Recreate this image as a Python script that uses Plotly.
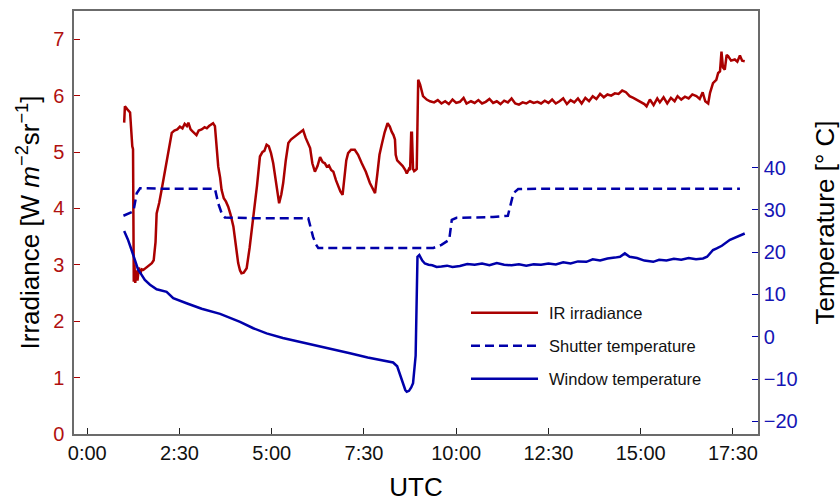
import plotly.graph_objects as go

# ---- data (hours UTC) ----
ir_hours = [1.00, 1.02, 1.08, 1.16, 1.22, 1.24, 1.26, 1.28, 1.30, 1.33, 1.36, 1.40, 1.44, 1.48, 1.52,
            1.60, 1.68, 1.75, 1.80, 1.85, 1.88, 1.95, 2.02, 2.06, 2.12, 2.18, 2.24, 2.29, 2.36, 2.44,
            2.51, 2.58, 2.64, 2.70, 2.74, 2.80, 2.86, 2.92, 2.96, 3.02, 3.10, 3.18, 3.24, 3.30, 3.36,
            3.41, 3.46, 3.51, 3.55, 3.60, 3.64, 3.70, 3.76, 3.82, 3.88, 3.96, 4.03, 4.09, 4.14, 4.18,
            4.24, 4.32, 4.40, 4.50, 4.60, 4.68, 4.75, 4.80, 4.86, 4.92, 4.98, 5.04, 5.12, 5.20, 5.26,
            5.31, 5.38, 5.45, 5.52, 5.58, 5.66, 5.75, 5.85, 5.92, 5.98, 6.04, 6.10, 6.17, 6.24, 6.31,
            6.38, 6.44, 6.49, 6.55, 6.61, 6.67, 6.74, 6.80, 6.86, 6.92, 6.97, 7.02, 7.07, 7.15, 7.25,
            7.34, 7.44, 7.55, 7.66, 7.73, 7.80, 7.86, 7.92, 7.98, 8.06, 8.14, 8.20, 8.25, 8.30, 8.34,
            8.36, 8.40, 8.47, 8.55, 8.62, 8.66, 8.72, 8.75, 8.78, 8.80, 8.83, 8.86, 8.90, 8.93, 8.95,
            8.97, 9.02, 9.10, 9.20, 9.29, 9.40, 9.50, 9.60, 9.70, 9.80, 9.90, 10.00, 10.10, 10.20,
            10.28, 10.40, 10.50, 10.60, 10.70, 10.80, 10.90, 11.00, 11.10, 11.20, 11.30, 11.40, 11.50,
            11.60, 11.70, 11.80, 11.90, 12.00, 12.10, 12.20, 12.30, 12.40, 12.50, 12.60, 12.70, 12.80,
            12.90, 13.00, 13.10, 13.20, 13.30, 13.40, 13.50, 13.60, 13.70, 13.80, 13.90, 14.00, 14.10,
            14.20, 14.30, 14.40, 14.50, 14.60, 14.70, 14.80, 14.90, 15.00, 15.10, 15.16, 15.25, 15.35,
            15.45, 15.52, 15.62, 15.72, 15.82, 15.92, 16.00, 16.10, 16.20, 16.30, 16.40, 16.51, 16.60,
            16.68, 16.75, 16.83, 16.88, 16.96, 17.05, 17.10, 17.15, 17.19, 17.23, 17.28, 17.33, 17.37,
            17.45, 17.55, 17.62, 17.69, 17.75, 17.82]
ir_values = [5.52, 5.81, 5.76, 5.70, 5.10, 5.05, 2.70, 3.00, 2.68, 2.90, 2.72, 2.95, 2.85, 2.92, 2.91,
             2.95, 2.98, 3.03, 3.08, 3.40, 3.91, 4.10, 4.35, 4.50, 4.75, 4.95, 5.20, 5.34, 5.38, 5.40,
             5.45, 5.42, 5.50, 5.46, 5.52, 5.40, 5.36, 5.33, 5.30, 5.38, 5.40, 5.44, 5.42, 5.46, 5.48,
             5.51, 5.46, 5.10, 4.74, 4.55, 4.33, 4.18, 4.12, 4.03, 3.90, 3.68, 3.35, 3.03, 2.90, 2.85,
             2.86, 2.94, 3.30, 3.80, 4.40, 4.92, 5.00, 5.02, 5.13, 5.10, 4.98, 4.80, 4.45, 4.09, 4.25,
             4.45, 4.85, 5.16, 5.22, 5.25, 5.30, 5.33, 5.39, 5.25, 5.16, 5.07, 4.80, 4.65, 4.75, 4.91,
             4.82, 4.80, 4.74, 4.76, 4.68, 4.65, 4.50, 4.39, 4.30, 4.24, 4.55, 4.85, 4.98, 5.04, 5.04,
             4.95, 4.80, 4.65, 4.45, 4.35, 4.27, 4.60, 4.95, 5.13, 5.35, 5.51, 5.45, 5.36, 5.30, 5.22,
             4.95, 4.85, 4.80, 4.75, 4.68, 4.62, 4.70, 4.68, 5.34, 5.34, 4.70, 4.66, 4.68, 4.70, 5.50,
             6.28, 6.20, 5.99, 5.93, 5.90, 5.88, 5.92, 5.86, 5.90, 5.85, 5.93, 5.87, 5.89, 5.96,
             5.86, 5.90, 5.87, 5.92, 5.86, 5.89, 5.94, 5.87, 5.90, 5.85, 5.91, 5.88, 5.95,
             5.86, 5.84, 5.88, 5.86, 5.90, 5.87, 5.89, 5.86, 5.91, 5.87, 5.93, 5.86, 5.90,
             5.95, 5.85, 5.92, 5.88, 5.95, 5.86, 5.96, 5.90, 5.99, 5.94, 6.03, 5.97, 6.02,
             6.00, 6.04, 6.03, 6.09, 6.06, 5.99, 5.96, 5.92, 5.88, 5.85, 5.81, 5.93, 5.83,
             5.95, 5.88, 5.97, 5.86, 5.96, 5.90, 5.99, 5.93, 5.98, 5.95, 6.02, 5.99, 5.94,
             6.06, 5.90, 5.86, 6.05, 6.22, 6.28, 6.40, 6.43, 6.78, 6.50, 6.46, 6.72, 6.70,
             6.62, 6.64, 6.60, 6.71, 6.62, 6.61]

shutter_hours = [0.98, 1.25, 1.34, 1.43, 2.00, 3.00, 3.46, 3.55, 3.65, 3.73, 4.50, 5.50, 5.99, 6.12,
                 6.20, 6.26, 7.00, 8.00, 9.00, 9.38, 9.60, 9.81, 9.88, 10.01, 10.50, 11.00, 11.40,
                 11.46, 11.55, 11.68, 12.50, 14.00, 15.50, 17.00, 17.69]
shutter_temp = [28.6, 29.6, 33.9, 35.1, 35.0, 35.0, 35.0, 31.5, 29.0, 28.2, 28.0, 28.0, 28.0, 23.6,
                21.8, 21.0, 21.0, 21.0, 21.0, 21.0, 21.7, 22.9, 27.6, 28.1, 28.2, 28.3, 28.6,
                30.7, 33.9, 34.9, 35.0, 35.0, 35.0, 35.0, 35.0]

window_hours = [1.00, 1.10, 1.20, 1.30, 1.38, 1.46, 1.56, 1.70, 1.88, 2.15, 2.33, 2.69, 3.10, 3.60,
                4.14, 4.50, 4.86, 5.30, 5.76, 6.22, 6.70, 7.12, 7.60, 8.00, 8.29, 8.40, 8.47, 8.55,
                8.62, 8.66, 8.72, 8.78, 8.83, 8.90, 8.95, 9.00, 9.08, 9.15, 9.25, 9.35, 9.47, 9.60,
                9.75, 9.90, 10.10, 10.30, 10.50, 10.70, 10.90, 11.10, 11.30, 11.50, 11.70, 11.90,
                12.10, 12.30, 12.50, 12.70, 12.90, 13.10, 13.30, 13.53, 13.70, 13.90, 14.10, 14.30,
                14.44, 14.57, 14.70, 14.90, 15.10, 15.34, 15.50, 15.70, 15.90, 16.10, 16.30, 16.50,
                16.69, 16.80, 16.87, 16.96, 17.06, 17.20, 17.42, 17.60, 17.82]
window_temp = [25.0, 23.0, 20.5, 18.0, 15.8, 14.8, 13.4, 12.3, 11.2, 10.6, 9.1, 7.9, 6.6, 5.4,
               3.5, 2.0, 0.8, -0.3, -1.2, -2.0, -3.0, -3.9, -4.9, -5.6, -6.1, -7.0, -8.7, -11.0,
               -12.6, -13.0, -12.8, -12.0, -11.0, -4.5, 18.9, 19.3, 18.0, 17.3, 17.0, 16.9, 16.5, 16.6,
               16.8, 16.5, 16.7, 17.2, 17.0, 17.3, 16.9, 17.4, 17.0, 16.9, 17.1, 16.8,
               17.1, 17.0, 17.3, 17.1, 17.6, 17.3, 17.8, 17.7, 18.3, 18.0, 18.5, 18.7,
               18.9, 19.7, 18.9, 18.6, 18.0, 17.7, 18.2, 18.0, 18.4, 18.2, 18.6, 18.3,
               18.5, 18.9, 19.7, 20.5, 20.9, 21.5, 22.9, 23.5, 24.4]

x_tickvals = [0, 2.5, 5, 7.5, 10, 12.5, 15, 17.5]
x_ticktext = ["0:00", "2:30", "5:00", "7:30", "10:00", "12:30", "15:00", "17:30"]
left_ticks = [0, 1, 2, 3, 4, 5, 6, 7]
right_ticks = [-20, -10, 0, 10, 20, 30, 40]
names = ["IR irradiance", "Shutter temperature", "Window temperature"]

RED = "#AA0000"
BLUE = "#0000AA"
AXIS = "#6b6b6b"
FONT = "Liberation Sans, Arial, sans-serif"

line_styles = [dict(color=RED, width=2.5),
               dict(color=BLUE, width=2.5, dash="9px,5px"),
               dict(color=BLUE, width=2.5)]

fig = go.Figure()
fig.add_trace(go.Scatter(x=ir_hours, y=ir_values, mode="lines", name=names[0],
                         line=line_styles[0], yaxis="y"))
fig.add_trace(go.Scatter(x=shutter_hours, y=shutter_temp, mode="lines", name=names[1],
                         line=line_styles[1], yaxis="y2"))
fig.add_trace(go.Scatter(x=window_hours, y=window_temp, mode="lines", name=names[2],
                         line=line_styles[2], yaxis="y2"))

# legend drawn inside the plot (line samples + labels)
leg_y = [0.2868, 0.2087, 0.1307]
shapes = []
annotations = []
for name, style, yy in zip(names, line_styles, leg_y):
    shapes.append(dict(type="line", xref="paper", yref="paper", x0=0.5804, x1=0.6784,
                       y0=yy, y1=yy, line=style))
    annotations.append(dict(text=name, xref="paper", yref="paper", x=0.6915, y=yy,
                            xanchor="left", yanchor="middle", showarrow=False,
                            font=dict(size=16.5, color="#111")))

fig.update_layout(
    width=840, height=502,
    margin=dict(l=74, r=82, t=11, b=68),
    paper_bgcolor="white", plot_bgcolor="white",
    font=dict(family=FONT, size=20, color="black"),
    showlegend=False,
    shapes=shapes,
    annotations=annotations,
    xaxis=dict(range=[-0.36, 18.18], tickvals=x_tickvals, ticktext=x_ticktext,
               ticks="inside", ticklen=6, tickcolor="#222", showgrid=False, zeroline=False,
               showline=True, linecolor=AXIS, linewidth=1.5, mirror=True, automargin=False,
               title=dict(text="UTC", font=dict(size=26), standoff=18),
               tickfont=dict(size=20, color="#111")),
    yaxis=dict(range=[0, 7.5], tickvals=left_ticks, ticks="inside", ticklen=6,
               tickcolor=RED, showgrid=False, zeroline=False, showline=True,
               linecolor=AXIS, linewidth=1.5, ticklabelstandoff=4, automargin=False,
               tickfont=dict(size=20, color="#B01010"),
               title=dict(text="Irradiance [W <i>m</i><sup>−2</sup>sr<sup>−1</sup>]",
                          font=dict(size=26), standoff=6)),
    yaxis2=dict(range=[-23, 77], tickvals=right_ticks, overlaying="y", side="right",
                ticks="inside", ticklen=6, tickcolor=BLUE, showgrid=False, zeroline=False,
                showline=True, linecolor=AXIS, linewidth=1.5, automargin=False,
                tickfont=dict(size=20, color="#1515B5"),
                title=dict(text="Temperature [° C]", font=dict(size=26), standoff=21)),
)

fig.write_html("out.html")
